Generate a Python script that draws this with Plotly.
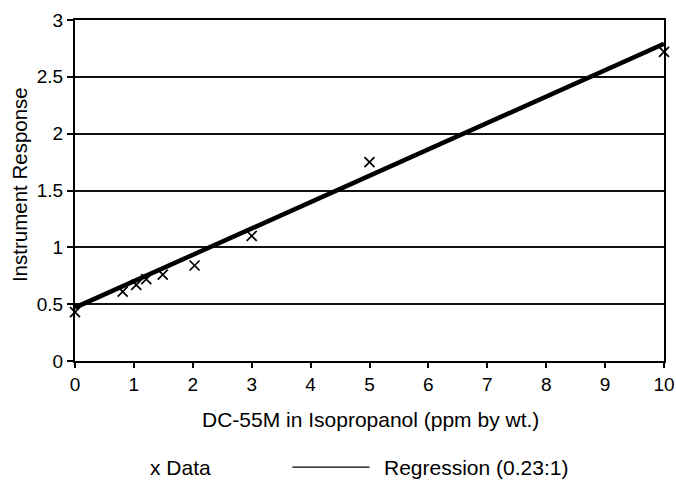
import plotly.graph_objects as go

# Data
data_x = [0.0, 0.81, 1.04, 1.21, 1.49, 2.03, 3.0, 5.0, 10.0]
data_y = [0.43, 0.61, 0.67, 0.72, 0.76, 0.84, 1.10, 1.75, 2.72]

reg_x = [0.0, 10.0]
reg_y = [0.47, 2.79]

x_ticks = [0, 1, 2, 3, 4, 5, 6, 7, 8, 9, 10]
y_ticks = [0, 0.5, 1, 1.5, 2, 2.5, 3]
y_labels = ["0", "0.5", "1", "1.5", "2", "2.5", "3"]

FONT = "Liberation Sans, Arial, sans-serif"

fig = go.Figure()
fig.add_trace(go.Scatter(
    x=reg_x, y=reg_y, mode="lines",
    line=dict(color="black", width=4.5),
    name="Regression (0.23:1)", showlegend=False,
))
fig.add_trace(go.Scatter(
    x=data_x, y=data_y, mode="markers",
    marker=dict(symbol="x-thin", size=10, line=dict(color="black", width=1.7)),
    name="Data", showlegend=False, cliponaxis=False,
))

fig.update_layout(
    width=676, height=480,
    margin=dict(l=75, r=12, t=20, b=119, autoexpand=False),
    paper_bgcolor="white", plot_bgcolor="white",
    font=dict(family=FONT, size=19, color="black"),
    showlegend=False,
    xaxis=dict(
        range=[0, 10], tickvals=x_ticks, ticktext=[str(v) for v in x_ticks],
        showgrid=False, zeroline=False, automargin=False,
        showline=True, linecolor="black", linewidth=2, mirror=True,
        ticks="outside", ticklen=5, tickwidth=1.5, tickcolor="black",
        tickfont=dict(size=19),
    ),
    yaxis=dict(
        range=[0, 3], tickvals=y_ticks, ticktext=y_labels,
        showgrid=True, gridcolor="#111111", gridwidth=1.5, zeroline=False,
        automargin=False,
        showline=True, linecolor="black", linewidth=2, mirror=True,
        ticks="outside", ticklen=6, tickwidth=1.5, tickcolor="black",
        tickfont=dict(size=19),
    ),
    annotations=[
        dict(text="Instrument Response", xref="paper", yref="paper",
             x=-0.095, y=0.516, xanchor="center", yanchor="middle",
             textangle=-90, showarrow=False, font=dict(size=20.5)),
        dict(text="DC-55M in Isopropanol (ppm by wt.)", xref="paper", yref="paper",
             x=0.502, y=-0.173, xanchor="center", yanchor="middle",
             showarrow=False, font=dict(size=21)),
        dict(text="x Data", xref="paper", yref="paper",
             x=0.124, y=-0.311, xanchor="left", yanchor="middle",
             showarrow=False, font=dict(size=21)),
        dict(text="Regression (0.23:1)", xref="paper", yref="paper",
             x=0.522, y=-0.311, xanchor="left", yanchor="middle",
             showarrow=False, font=dict(size=21)),
    ],
    shapes=[
        dict(type="line", xref="paper", yref="paper",
             x0=0.369, x1=0.5, y0=-0.311, y1=-0.311,
             line=dict(color="black", width=1.2)),
    ],
)

fig.write_html("out.html", config={"displayModeBar": False},
               post_script="document.body.style.margin='0';")
